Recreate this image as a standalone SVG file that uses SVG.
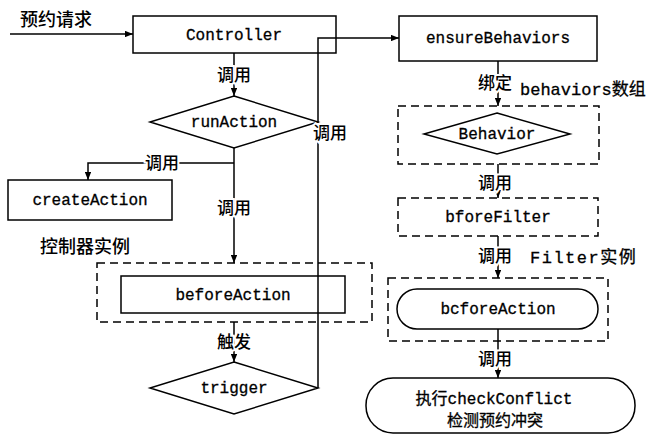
<svg xmlns="http://www.w3.org/2000/svg" width="651" height="434" viewBox="0 0 651 434">
<style>
.box{fill:none;stroke:#000;stroke-width:1.5}
.dash{fill:none;stroke:#000;stroke-width:1.5;stroke-dasharray:8 5}
.ln{fill:none;stroke:#000;stroke-width:1.5}
.t{font-family:"Liberation Mono","Noto Sans CJK SC",monospace;font-size:16px;fill:#000;text-anchor:middle;stroke:#000;stroke-width:0.3}
.lb{font-family:"Noto Sans CJK SC",sans-serif;font-size:17px;font-weight:500;fill:#000;text-anchor:middle;stroke:#fff;stroke-width:4;paint-order:stroke}
.cj{font-family:"Noto Sans CJK SC",sans-serif;font-size:18px;font-weight:500;fill:#000}
.mx{font-family:"Liberation Mono","Noto Sans CJK SC",monospace;font-size:17px;fill:#000;stroke:#000;stroke-width:0.3}
</style>
<defs>
<marker id="ah" viewBox="0 0 10 8" refX="10" refY="4" markerWidth="8" markerHeight="6.4" markerUnits="userSpaceOnUse" orient="auto">
<path d="M0,0 L10,4 L0,8 z" fill="#000"/>
</marker>
</defs>
<rect width="651" height="434" fill="#fff"/>

<g id="containers">
<rect id="ctrl-instance" class="dash" x="97" y="263" width="275" height="59"/>
<rect id="behavior-array" class="dash" x="398" y="106" width="201" height="58"/>
<rect id="bforeFilter" class="dash" x="398" y="198" width="200" height="38"/>
<rect id="filter-instance" class="dash" x="388" y="278" width="220" height="63"/>
</g>

<g id="controller">
<rect class="box" x="133" y="16" width="203" height="37"/>
<text class="t" x="234" y="40">Controller</text>
</g>
<g id="ensureBehaviors">
<rect class="box" x="399" y="16" width="198" height="45"/>
<text class="t" x="498" y="43">ensureBehaviors</text>
</g>
<g id="runAction">
<polygon class="box" points="234,96 318,122 234,148 150,122"/>
<text class="t" x="234" y="127">runAction</text>
</g>
<g id="createAction">
<rect class="box" x="8" y="180" width="164" height="40"/>
<text class="t" x="90" y="205">createAction</text>
</g>
<g id="beforeAction">
<rect class="box" x="121" y="276" width="224" height="37"/>
<text class="t" x="233" y="300">beforeAction</text>
</g>
<g id="trigger">
<polygon class="box" points="234,362 318,388 234,414 150,388"/>
<text class="t" x="234" y="393">trigger</text>
</g>
<g id="behavior">
<polygon class="box" points="497,113 570,134 497,154 424,134"/>
<text class="t" x="497" y="139">Behavior</text>
</g>
<g id="bforeFilter-node">
<text class="t" x="498" y="222">bforeFilter</text>
</g>
<g id="bcforeAction">
<rect class="box" x="397" y="289" width="201" height="40" rx="20" ry="20"/>
<text class="t" x="498" y="314">bcforeAction</text>
</g>
<g id="checkConflict">
<rect class="box" x="366" y="378" width="269" height="55" rx="27" ry="27"/>
<text class="t" x="494" y="404">执行checkConflict</text>
<text class="t" x="495" y="426">检测预约冲突</text>
</g>

<g id="connectors">
<line class="ln" x1="10" y1="34" x2="133" y2="34" marker-end="url(#ah)"/>
<line class="ln" x1="234" y1="53" x2="234" y2="96" marker-end="url(#ah)"/>
<line class="ln" x1="234" y1="148" x2="234" y2="263" marker-end="url(#ah)"/>
<polyline class="ln" points="234,163 88,163 88,180" marker-end="url(#ah)"/>
<line class="ln" x1="234" y1="322" x2="234" y2="362" marker-end="url(#ah)"/>
<polyline class="ln" points="318,388 318,38 399,38" marker-end="url(#ah)"/>
<line class="ln" x1="498" y1="61" x2="498" y2="106" marker-end="url(#ah)"/>
<line class="ln" x1="498" y1="164" x2="498" y2="198" marker-end="url(#ah)"/>
<line class="ln" x1="498" y1="236" x2="498" y2="278" marker-end="url(#ah)"/>
<line class="ln" x1="498" y1="329" x2="498" y2="378" marker-end="url(#ah)"/>
<text class="lb" x="234" y="81">调用</text>
<text class="lb" x="162" y="169">调用</text>
<text class="lb" x="234" y="214">调用</text>
<text class="lb" x="234" y="348">触发</text>
<text class="lb" x="330" y="139">调用</text>
<text class="lb" x="495" y="89">绑定</text>
<text class="lb" x="495" y="189">调用</text>
<text class="lb" x="495" y="262">调用</text>
<text class="lb" x="495" y="365">调用</text>
</g>

<g id="labels">
<text class="cj" x="20" y="26">预约请求</text>
<text class="cj" x="40" y="253">控制器实例</text>
<text class="mx" x="520" y="95">behaviors数组</text>
<text class="mx" x="530" y="263" letter-spacing="1.5">Filter实例</text>
</g>
</svg>
